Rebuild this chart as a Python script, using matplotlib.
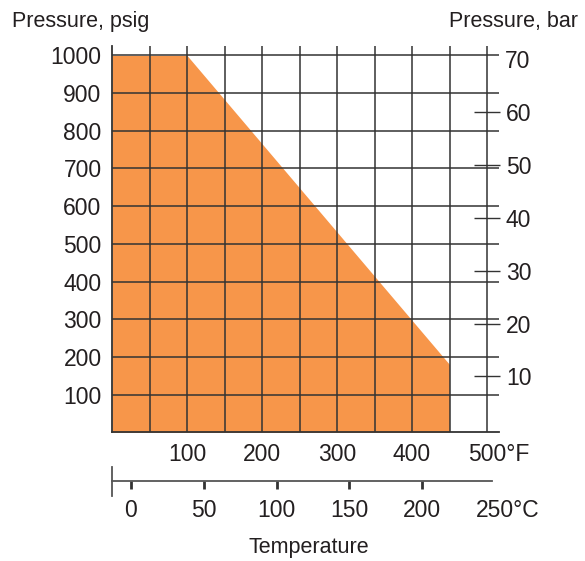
import numpy as np
import matplotlib
matplotlib.use("Agg")
import matplotlib.pyplot as plt

plt.rcParams['font.family'] = ['Liberation Sans', 'DejaVu Sans']

# allowable region: temperature (°F) vs pressure (psig)
temp_f = [0, 100, 450, 450]
press_psig = [1000, 1000, 180, 0]

psig_ticks = [100, 200, 300, 400, 500, 600, 700, 800, 900, 1000]
f_ticks = [100, 200, 300, 400, 500]
f_labels = ['100', '200', '300', '400', '']
f_grid = [50, 100, 150, 200, 250, 300, 350, 400, 450, 500]
bar_ticks = [10, 20, 30, 40, 50, 60]
c_ticks = [0, 50, 100, 150, 200]

txt = '#231f20'
grid_c = '#333333'
fs = 16.5

fig = plt.figure(figsize=(5.85, 5.61), dpi=100)
ax = fig.add_axes([112/585, 1 - 432.3/561, 387/585, (432.3 - 46)/561])

ax.fill_between(temp_f, press_psig, 0, color='#f7964a', lw=0, zorder=1)
for x in f_grid:
    ax.axvline(x, color=grid_c, lw=1.1, zorder=2)
for y in psig_ticks:
    ax.axhline(y, color=grid_c, lw=1.1, zorder=2)

ax.set_xlim(0, 516)
ax.set_ylim(0, 1025)
for s in ['top', 'right']:
    ax.spines[s].set_visible(False)
for s in ['left', 'bottom']:
    ax.spines[s].set_color(grid_c)
    ax.spines[s].set_linewidth(1.3)

ax.set_xticks(f_ticks)
ax.set_xticklabels(f_labels)
ax.set_yticks(psig_ticks)
ax.tick_params(axis='both', length=0, labelsize=fs, labelcolor=txt)
ax.tick_params(axis='x', pad=7.5)
ax.tick_params(axis='y', pad=7.5)
# last label carries the unit, number centred on its line
ax.annotate('500°F', xy=(500, 0), xycoords=('data', 'axes fraction'),
            xytext=(-19, -10.4), textcoords='offset pixels',
            ha='left', va='top', fontsize=fs, color=txt)

# right axis in bar, ticks on the 500°F line
axr = ax.twinx()
axr.set_ylim(-0.57, 72.5)
axr.set_xlim(0, 516)
for s in ['top', 'left', 'bottom', 'right']:
    axr.spines[s].set_visible(False)
axr.spines['right'].set_position(('data', 500))
axr.set_yticks(bar_ticks)
axr.set_yticks([70], minor=True)
axr.set_yticklabels(['70'], minor=True)
axr.tick_params(axis='y', which='major', direction='inout', length=19, width=1,
                color=grid_c, labelsize=fs, labelcolor=txt, pad=4)
axr.tick_params(axis='y', which='minor', length=0, labelsize=fs, labelcolor=txt, pad=13)

# celsius scale below
axc = fig.add_axes([112/585, 1 - 496/561, 380/585, 29.3/561])
axc.set_xlim(-13, 248)
axc.set_ylim(0, 1)
axc.patch.set_visible(False)
for s in ['top', 'right']:
    axc.spines[s].set_visible(False)
axc.spines['bottom'].set_position(('data', 0.5))
for s in ['bottom', 'left']:
    axc.spines[s].set_color('#555555')
    axc.spines[s].set_linewidth(1.3)
axc.set_yticks([])
axc.set_xticks(c_ticks)
axc.tick_params(axis='x', direction='out', length=6, width=2, color='#333333',
                labelsize=fs, labelcolor=txt, pad=6.5)
axc.annotate('250°C', xy=(250, 0.5), xycoords='data',
             xytext=(-19, -(6 + 6.5) * 100 / 72), textcoords='offset pixels',
             ha='left', va='top', fontsize=fs, color=txt, annotation_clip=False)

fig.text(12/585, 1 - 22/561, 'Pressure, psig', fontsize=15.5, color=txt, ha='left', va='center')
fig.text(578/585, 1 - 22/561, 'Pressure, bar', fontsize=15.5, color=txt, ha='right', va='center')
fig.text(309/585, 1 - 548/561, 'Temperature', fontsize=15.5, color=txt, ha='center', va='center')

fig.savefig('out.png', dpi=100)
